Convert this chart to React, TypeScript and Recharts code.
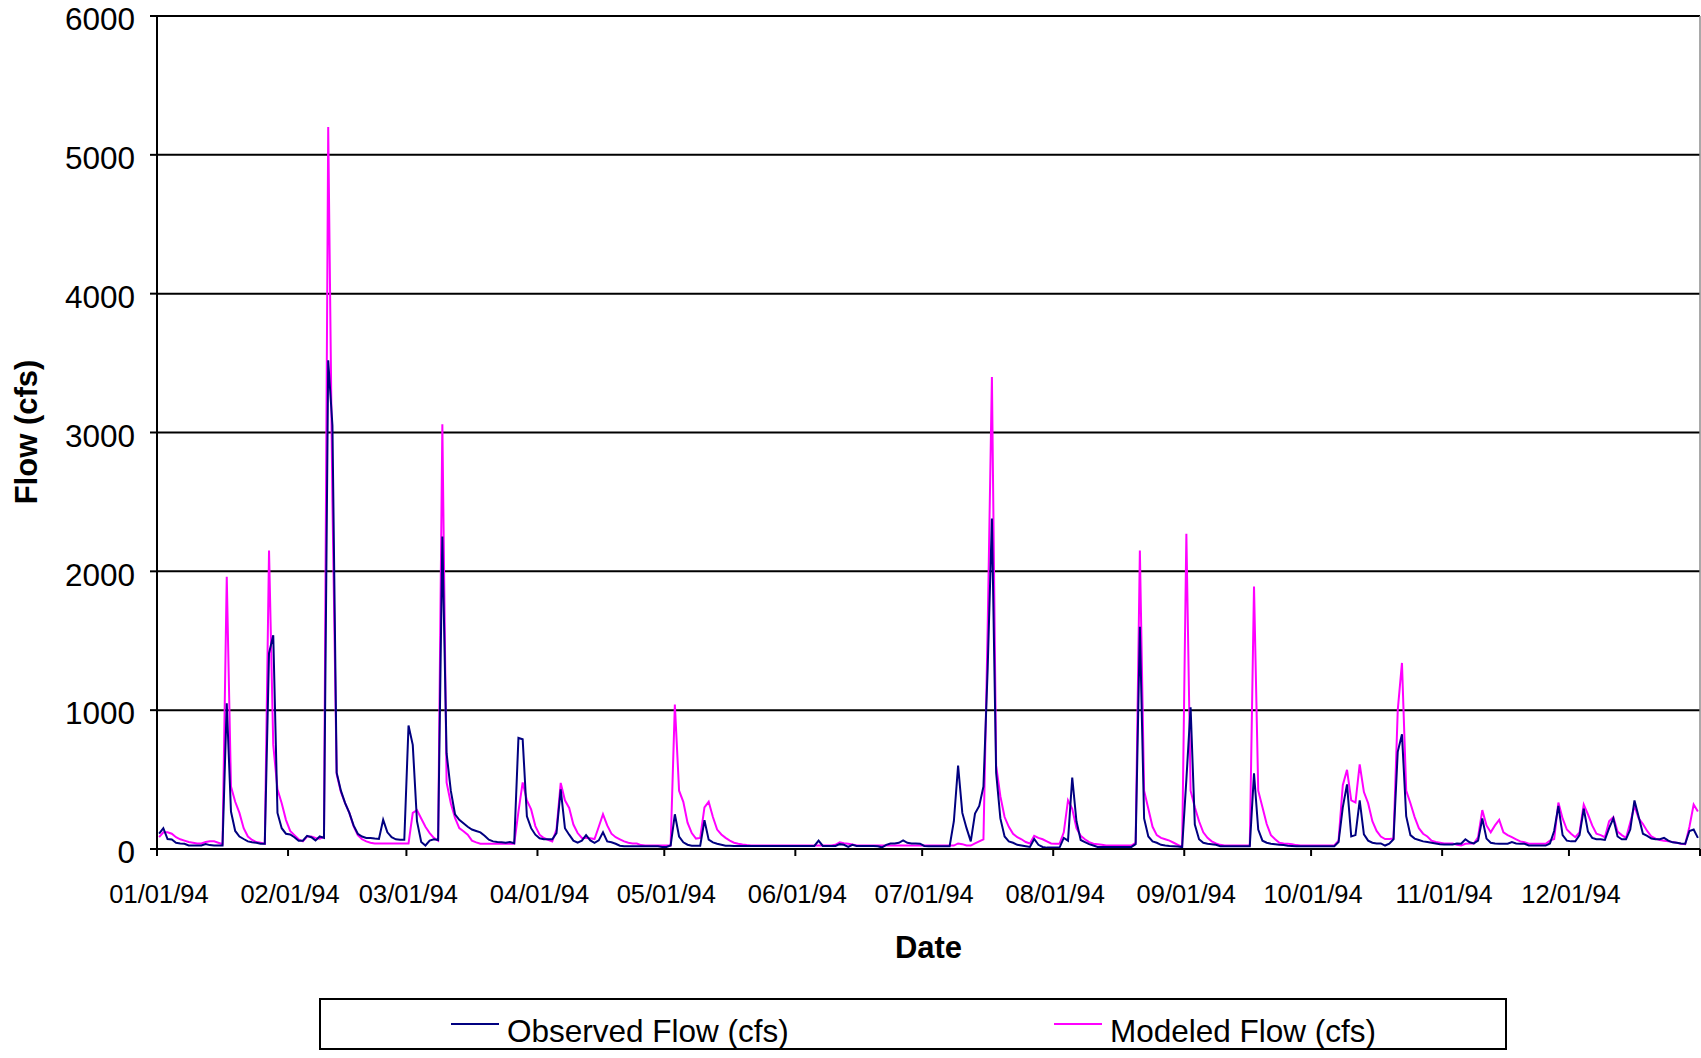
import React from 'react';
import { LineChart, Line, XAxis, YAxis, CartesianGrid, ReferenceLine, Label } from 'recharts';

// daily flows for 1994 (cfs), Jan 1 .. Dec 31
const observedFlow = [
  110, 150, 72, 68, 45, 40, 38, 25, 25, 25,
  25, 35, 28, 25, 25, 25, 1050, 270, 130, 90,
  72, 55, 48, 45, 38, 38, 1410, 1540, 260, 150,
  110, 105, 85, 60, 60, 95, 85, 62, 90, 80,
  3520, 3050, 550, 420, 330, 260, 170, 110, 90, 80,
  80, 75, 72, 210, 120, 85, 70, 67, 67, 890,
  750, 200, 50, 25, 60, 70, 65, 2250, 690, 420,
  250, 210, 185, 160, 140, 130, 120, 96, 67, 55,
  50, 48, 45, 50, 42, 800, 790, 236, 150, 103,
  77, 70, 70, 70, 115, 430, 150, 103, 60, 45,
  60, 100, 62, 45, 62, 120, 55, 48, 38, 24,
  20, 20, 20, 20, 20, 20, 20, 20, 20, 15,
  15, 25, 250, 90, 48, 31, 24, 24, 24, 207,
  67, 48, 38, 31, 24, 24, 22, 22, 22, 22,
  22, 22, 22, 22, 22, 22, 22, 22, 22, 22,
  22, 22, 22, 22, 22, 22, 60, 22, 22, 22,
  22, 35, 30, 15, 30, 22, 22, 22, 22, 22,
  20, 12, 30, 40, 40, 45, 62, 45, 40, 40,
  38, 22, 20, 20, 20, 20, 20, 20, 200, 600,
  260, 150, 55, 255, 310, 450, 1300, 2380, 550, 220,
  90, 55, 45, 30, 25, 20, 15, 72, 30, 15,
  10, 10, 10, 10, 80, 60, 515, 200, 65, 50,
  35, 25, 15, 15, 15, 15, 15, 15, 15, 15,
  15, 35, 1600, 220, 90, 55, 45, 30, 25, 22,
  20, 18, 14, 500, 1020, 176, 70, 45, 38, 35,
  30, 20, 20, 20, 20, 20, 20, 20, 20, 545,
  140, 60, 45, 38, 35, 31, 28, 24, 22, 20,
  20, 20, 20, 20, 20, 20, 20, 20, 20, 50,
  300, 465, 90, 100, 350, 105, 60, 45, 40, 40,
  25, 38, 70, 700, 826, 236, 100, 75, 65, 55,
  50, 45, 40, 35, 32, 32, 32, 40, 38, 70,
  48, 40, 60, 220, 75, 45, 40, 38, 38, 38,
  50, 40, 38, 38, 25, 25, 25, 25, 25, 40,
  130, 310, 100, 60, 55, 55, 100, 290, 125, 80,
  70, 70, 65, 150, 220, 90, 70, 70, 140, 350,
  230, 110, 95, 75, 70, 70, 80, 60, 48, 45,
  40, 38, 130, 140, 80,
];

const modeledFlow = [
  85, 120, 120, 110, 85, 70, 60, 50, 45, 40,
  40, 50, 55, 55, 45, 35, 1960, 450, 340, 260,
  150, 90, 65, 50, 45, 38, 2150, 750, 430, 330,
  210, 130, 100, 70, 55, 90, 90, 80, 75, 90,
  5200, 2500, 540, 410, 330, 260, 165, 100, 70, 55,
  45, 40, 40, 40, 40, 40, 40, 40, 40, 40,
  260, 280, 220, 160, 115, 80, 60, 3060, 480, 330,
  224, 150, 128, 103, 60, 48, 38, 38, 38, 38,
  38, 38, 38, 38, 38, 270, 480, 350, 285, 165,
  103, 79, 67, 55, 140, 476, 351, 296, 176, 115,
  80, 80, 78, 72, 160, 250, 170, 110, 85, 70,
  55, 45, 40, 40, 28, 25, 25, 25, 25, 25,
  25, 25, 1040, 420, 340, 190, 115, 75, 80, 300,
  340, 230, 140, 105, 80, 60, 45, 38, 32, 28,
  25, 25, 25, 25, 25, 25, 25, 25, 25, 25,
  25, 25, 25, 25, 25, 25, 25, 25, 25, 25,
  30, 48, 42, 38, 32, 25, 25, 25, 25, 25,
  25, 25, 25, 25, 25, 25, 25, 25, 25, 25,
  25, 25, 25, 25, 25, 25, 25, 25, 25, 40,
  35, 25, 25, 40, 55, 70, 1600, 3400, 600, 380,
  230, 160, 110, 85, 70, 50, 40, 95, 80, 70,
  55, 40, 38, 38, 120, 350, 290, 150, 95, 70,
  50, 38, 35, 30, 25, 25, 25, 25, 25, 25,
  25, 45, 2150, 420, 290, 160, 100, 80, 70, 60,
  45, 30, 15, 2270, 420, 300, 200, 120, 80, 55,
  40, 30, 25, 25, 25, 25, 25, 25, 25, 1890,
  420, 300, 180, 100, 70, 45, 40, 38, 35, 28,
  25, 25, 25, 25, 25, 25, 25, 25, 25, 60,
  460, 570, 350, 335, 610, 410, 330, 200, 130, 90,
  72, 72, 75, 1000, 1340, 420, 330, 230, 150, 110,
  90, 60, 50, 45, 40, 40, 40, 30, 25, 38,
  40, 40, 85, 280, 170, 120, 170, 210, 120, 100,
  85, 70, 55, 48, 38, 38, 38, 38, 38, 60,
  72, 335, 220, 140, 110, 85, 120, 320, 250, 170,
  110, 100, 85, 200, 230, 125, 100, 80, 190, 310,
  220, 180, 130, 90, 75, 65, 60, 55, 50, 45,
  38, 35, 160, 320, 270,
];

// day-of-year where each month starts (plus year end)
const monthStarts = [0, 31, 59, 90, 120, 151, 181, 212, 243, 273, 304, 334, 365];
const monthLabels = [
  '01/01/94', '02/01/94', '03/01/94', '04/01/94', '05/01/94', '06/01/94',
  '07/01/94', '08/01/94', '09/01/94', '10/01/94', '11/01/94', '12/01/94', '',
];
const flowTicks = [0, 1000, 2000, 3000, 4000, 5000, 6000];

const data = observedFlow.map((v, i) => ({
  day: i + 0.5,
  observed: v,
  modeled: modeledFlow[i],
}));

const FONT = '"Liberation Sans", Arial, sans-serif';

const DateTitle = (props: any) => {
  const vb = props.viewBox || { x: 157, width: 1543 };
  return (
    <text x={vb.x + vb.width / 2} y={958} textAnchor="middle" fontSize={31} fontWeight="bold" fontFamily={FONT} fill="#000">
      Date
    </text>
  );
};

const FlowTitle = () => (
  <text transform="translate(37, 432) rotate(-90)" textAnchor="middle" fontSize={31} fontWeight="bold" fontFamily={FONT} fill="#000">
    Flow (cfs)
  </text>
);

function LegendBox() {
  const item = (color: string, label: string, left: number) => (
    <div style={{ position: 'absolute', left, top: 0, height: 48, display: 'flex', alignItems: 'center' }}>
      <div style={{ width: 48, height: 2, background: color, marginRight: 8 }} />
      <span style={{ fontSize: 31.5, color: '#000', whiteSpace: 'nowrap', position: 'relative', top: 7 }}>{label}</span>
    </div>
  );
  return (
    <div
      style={{
        position: 'absolute',
        left: 319,
        top: 998,
        width: 1188,
        height: 52,
        border: '2px solid #000',
        boxSizing: 'border-box',
        background: '#fff',
        fontFamily: FONT,
      }}
    >
      {item('#000080', 'Observed Flow (cfs)', 130)}
      {item('#FF00FF', 'Modeled Flow (cfs)', 733)}
    </div>
  );
}

export default function App() {
  return (
    <div style={{ position: 'absolute', left: 0, top: 0, width: 1701, height: 1058, background: '#fff', fontFamily: FONT }}>
      <LineChart width={1701} height={1058} data={data} margin={{ top: 16, right: 1, bottom: 109, left: 0 }}>
        <CartesianGrid vertical={false} stroke="#000" strokeWidth={2} />
        <XAxis
          dataKey="day"
          type="number"
          domain={[0, 365]}
          ticks={monthStarts}
          interval={0}
          height={100}
          tickSize={7}
          tickMargin={29}
          tickFormatter={(v: number) => monthLabels[monthStarts.indexOf(v)] ?? ''}
          axisLine={{ stroke: '#000', strokeWidth: 2 }}
          tickLine={{ stroke: '#000', strokeWidth: 2 }}
          tick={{ fontSize: 25.5, fill: '#000', fontFamily: FONT, dx: 2 }}
        >
          <Label content={DateTitle} />
        </XAxis>
        <YAxis
          domain={[0, 6000]}
          ticks={flowTicks}
          interval={0}
          width={157}
          tickSize={7}
          tickMargin={15}
          axisLine={{ stroke: '#000', strokeWidth: 2 }}
          tickLine={{ stroke: '#000', strokeWidth: 2 }}
          tick={{ fontSize: 31.5, fill: '#000', fontFamily: FONT, dy: 3 }}
        >
          <Label content={FlowTitle} />
        </YAxis>
        <ReferenceLine x={365} stroke="#8c8c8c" strokeWidth={1.5} />
        <Line
          type="linear"
          dataKey="modeled"
          stroke="#FF00FF"
          strokeWidth={2}
          dot={false}
          isAnimationActive={false}
        />
        <Line
          type="linear"
          dataKey="observed"
          stroke="#000080"
          strokeWidth={2}
          dot={false}
          isAnimationActive={false}
        />
      </LineChart>
      <LegendBox />
    </div>
  );
}
